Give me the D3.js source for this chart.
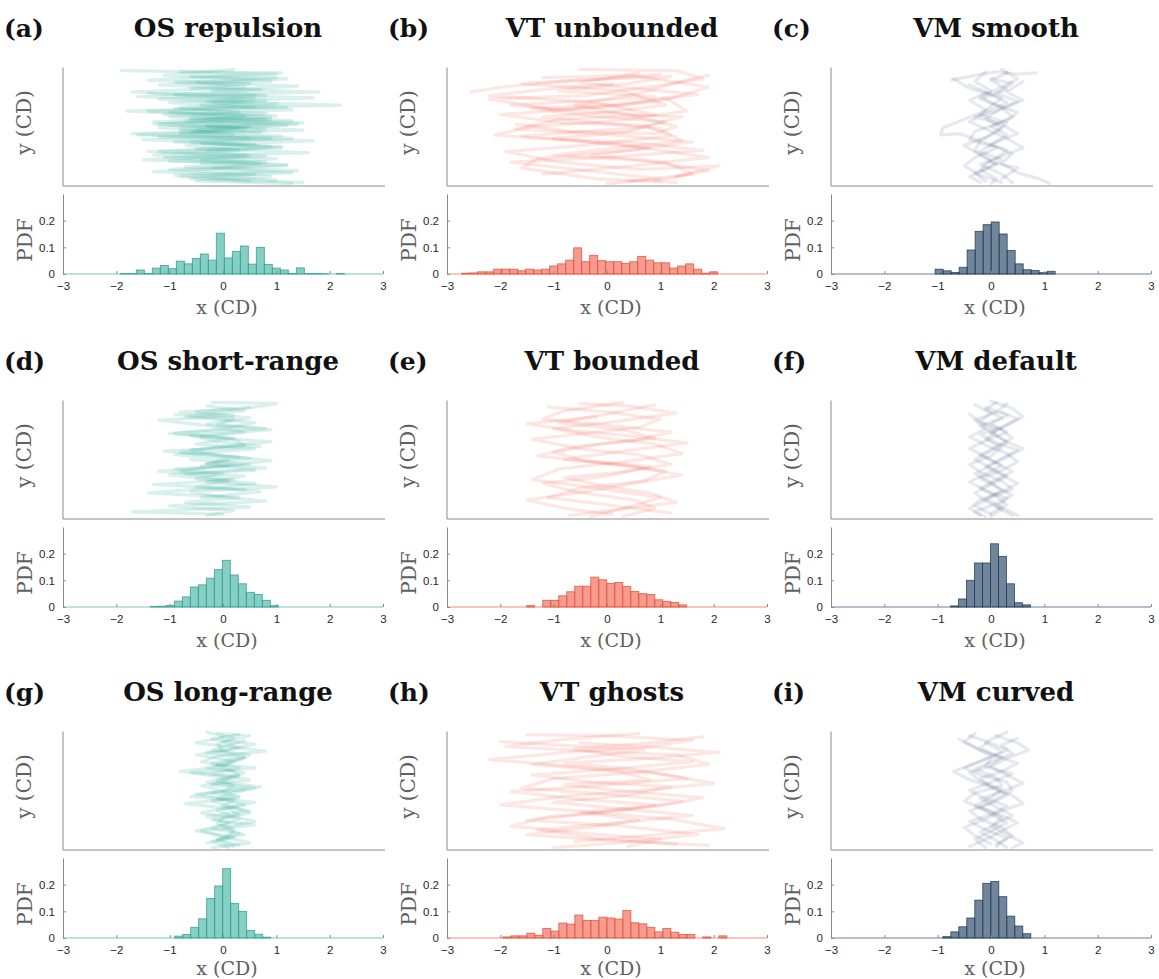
<!DOCTYPE html>
<html><head><meta charset="utf-8">
<script src="https://cdn.jsdelivr.net/npm/d3@7"></script>
<style>body{margin:0;background:#fff}svg{display:block}</style>
</head><body><svg id="chart" width="1159" height="979"></svg>
<script>
// ---------------- DATA ----------------
const panelLetters = ["(a)","(b)","(c)","(d)","(e)","(f)","(g)","(h)","(i)"];
const panelTitles = ["OS repulsion","VT unbounded","VM smooth","OS short-range","VT bounded","VM default","OS long-range","VT ghosts","VM curved"];
const panelModels = ["OS","VT","VM","OS","VT","VM","OS","VT","VM"];
const xTicks = [-3,-2,-1,0,1,2,3];
const pdfTicks = [0,0.1,0.2];
const xLabel = "x (CD)", yLabel = "y (CD)", pdfLabel = "PDF";
const binWidth = 0.15;
const histBinStart = [-1.925,-2.725,-1.047,-1.3625,-1.505,-0.76,-0.906,-1.953,-0.904];
const histA = [0.002,0.002,0.015,0.002,0.022,0.032,0.02,0.048,0.038,0.058,0.075,0.052,0.153,0.06,0.085,0.105,0.037,0.1,0.036,0.022,0.015,0.002,0.023,0.002,0.002,0.001,0,0.002];
const histB = [0.003,0.004,0.008,0.008,0.018,0.018,0.018,0.012,0.018,0.015,0.018,0.03,0.038,0.052,0.098,0.046,0.07,0.05,0.046,0.046,0.04,0.046,0.066,0.052,0.042,0.042,0.022,0.03,0.038,0.018,0.003,0.008];
const histC = [0.018,0.012,0.006,0.025,0.09,0.16,0.185,0.195,0.15,0.088,0.038,0.016,0.013,0.005,0.01];
const histD = [0.002,0.003,0.006,0.022,0.038,0.075,0.083,0.108,0.14,0.175,0.12,0.087,0.055,0.047,0.025,0.005];
const histE = [0.005,0,0.025,0.025,0.042,0.057,0.078,0.078,0.112,0.102,0.088,0.092,0.077,0.058,0.05,0.047,0.027,0.021,0.017,0.008];
const histF = [0.004,0.03,0.1,0.165,0.165,0.237,0.19,0.087,0.016,0.008];
const histG = [0.007,0.013,0.04,0.072,0.148,0.195,0.26,0.13,0.1,0.028,0.014,0.003];
const histH = [0.004,0.008,0.008,0.018,0.01,0.036,0.026,0.056,0.052,0.086,0.066,0.066,0.078,0.075,0.071,0.103,0.057,0.053,0.04,0.023,0.036,0.022,0.013,0.013,0,0.004,0,0.008];
const histI = [0.005,0.023,0.042,0.075,0.142,0.205,0.212,0.155,0.082,0.045,0.016];
const histValues = [histA,histB,histC,histD,histE,histF,histG,histH,histI];

// trajectories: [x (CD), y (arbitrary 0..10)]
const trajA = [
 [[-1.9,9.7],[1.1,9.5],[-0.6,9.2],[0.9,8.8],[-1.2,8.5],[0.7,8.1],[-0.9,7.7],[1.7,7.4],[-1.0,7.0],[0.6,6.6],[-1.4,6.3],[1.0,5.9],[-0.7,5.5],[1.2,5.1],[-0.5,4.7]],
 [[-0.8,9.6],[1.0,9.4],[-1.4,8.9],[0.5,8.6],[-0.6,8.2],[1.8,7.9],[-1.6,7.5],[0.8,7.2],[-0.4,6.8],[1.3,6.4],[-1.1,6.0],[0.9,5.6],[-1.3,5.2],[0.4,4.8],[-0.8,4.4]],
 [[0.2,9.8],[-1.1,9.3],[1.2,9.0],[-0.5,8.7],[0.4,8.3],[-1.7,7.9],[0.6,7.6],[-0.3,7.1],[2.2,6.8],[-0.9,6.5],[0.8,6.1],[-0.6,5.7],[1.5,5.3],[-1.2,4.9],[0.7,4.5]],
 [[-1.0,6.2],[0.9,5.8],[-1.3,5.4],[0.5,5.0],[-0.8,4.6],[1.1,4.2],[-1.5,3.9],[0.6,3.5],[-0.5,3.1],[1.6,2.8],[-1.1,2.4],[0.8,2.0],[-0.7,1.6],[1.4,1.3],[-0.9,0.9],[1.0,0.5]],
 [[0.8,5.6],[-1.2,5.2],[0.3,4.9],[-0.6,4.4],[1.3,4.0],[-0.9,3.7],[0.9,3.3],[-1.4,2.9],[0.5,2.5],[-0.4,2.2],[1.2,1.8],[-1.0,1.4],[0.6,1.0],[-0.6,0.6],[1.5,0.3]],
 [[-0.3,5.0],[1.5,4.7],[-1.6,4.3],[0.9,4.0],[-0.4,3.6],[1.1,3.2],[-1.2,2.9],[0.4,2.6],[-1.5,2.2],[0.7,1.9],[-0.2,1.5],[1.3,1.1],[-0.8,0.8],[0.5,0.4]],
 [[-1.4,7.8],[0.6,7.3],[-0.2,7.0],[1.2,6.6],[-1.8,6.3],[0.4,5.9],[-0.6,5.5],[1.4,5.2],[-0.8,4.8],[0.2,4.3],[-1.2,4.1],[1.7,3.8],[-0.7,3.4],[0.3,3.0],[-1.3,2.6],[1.0,2.3],[-0.4,1.9]],
 [[1.0,9.1],[-0.9,8.7],[1.4,8.4],[-0.2,8.0],[0.8,7.6],[-1.2,7.3],[1.0,6.9],[-0.8,6.6],[0.3,6.2],[-1.0,5.8],[1.3,5.5],[-0.3,5.1],[0.8,4.7],[-1.7,4.4],[0.5,4.0],[-0.6,3.7],[1.1,3.3],[-0.3,2.9],[0.8,2.5],[-1.0,2.1],[1.2,1.7],[-1.3,1.2],[0.9,0.8],[-0.5,0.4],[1.3,0.2]]
];
const trajB = [
 [[-2.55,7.9],[-2.0,8.3],[-0.6,8.9],[1.2,9.2],[0.4,8.6],[-0.9,8.0],[0.9,7.5],[-1.8,6.8],[-0.3,6.2],[1.4,5.8],[0.6,4.9],[-1.6,4.2],[0.2,3.5],[1.9,2.4],[0.5,1.7],[-1.2,1.0]],
 [[-0.5,9.8],[1.3,9.7],[1.8,9.0],[0.9,8.4],[-0.4,7.6],[-2.2,7.3],[-1.0,6.4],[0.3,6.8],[1.1,7.4],[1.5,6.3],[0.2,5.5],[-1.4,5.0],[-2.1,4.3],[-0.6,3.8],[0.8,3.2],[-0.3,2.6],[1.1,2.0],[1.6,1.0],[0.4,0.4]],
 [[-1.2,9.1],[0.5,9.3],[1.9,8.3],[1.0,7.1],[-0.2,6.6],[-2.0,6.0],[-0.8,5.3],[0.7,5.1],[1.2,4.2],[-0.5,3.4],[-1.9,2.9],[-0.9,2.0],[0.6,1.4],[2.1,1.7],[1.3,0.8]],
 [[0.1,8.6],[-1.0,8.2],[-2.2,7.6],[-0.2,7.0],[0.9,6.0],[-0.9,5.6],[-1.7,4.8],[0.1,4.3],[1.6,3.7],[0.4,3.0],[-1.3,2.3],[-1.6,1.5],[-0.2,0.6],[1.3,0.3]],
 [[0.6,9.5],[-0.5,8.7],[0.5,8.2],[1.7,7.7],[0.2,6.9],[-1.4,6.5],[-0.3,5.9],[1.1,5.4],[0.3,4.5],[-1.0,4.0],[0.6,3.6],[1.8,3.0],[0.0,2.4],[-1.8,2.0],[-0.4,1.3],[1.0,0.6],[0.0,0.2]],
 [[1.0,9.4],[0.0,9.0],[-1.6,8.6],[0.3,8.0],[1.1,6.8],[0.0,6.2],[-1.2,5.8],[1.0,4.8],[1.4,3.8],[-0.2,3.0],[-1.0,2.6],[0.7,2.1],[1.9,1.3],[0.9,0.4]],
 [[-1.7,5.2],[-0.7,4.6],[0.9,4.4],[1.3,5.0],[0.4,6.0],[-0.6,6.8],[0.6,7.8],[1.4,8.8],[1.9,9.3]]
];
const trajC = [
 [[-0.75,8.9],[-0.3,9.3],[0.1,9.6],[0.5,9.4],[0.85,9.5]],
 [[-0.1,9.6],[-0.3,8.8],[0.0,8.0],[-0.4,7.2],[-0.1,6.4],[-0.5,5.6],[-0.9,4.9],[-0.95,4.3],[-0.6,4.4],[-0.2,3.8],[-0.3,3.0],[0.0,2.2],[-0.2,1.4],[0.1,0.6],[0.0,0.2]],
 [[0.3,9.5],[0.0,8.9],[0.3,8.1],[-0.2,7.3],[0.2,6.6],[0.4,5.8],[0.0,5.0],[0.3,4.3],[0.0,3.5],[0.4,2.7],[0.2,1.9],[0.5,1.1],[0.9,0.6],[1.1,0.2]],
 [[0.0,9.0],[0.4,8.6],[0.1,7.8],[0.5,7.1],[0.1,6.3],[-0.3,5.8],[0.2,5.2],[0.5,4.4],[0.1,3.7],[-0.2,2.9],[0.2,2.2],[-0.1,1.4],[-0.4,0.8],[-0.2,0.3]],
 [[-0.4,8.5],[0.0,7.7],[0.3,7.0],[-0.1,6.2],[-0.4,5.4],[-0.1,4.8],[0.3,4.0],[0.6,3.2],[0.2,2.5],[-0.2,1.8],[0.2,1.0],[0.4,0.3]],
 [[0.2,9.8],[0.5,9.0],[0.2,8.3],[-0.2,7.5],[0.1,6.8],[0.5,6.2],[0.3,5.5],[-0.3,4.6],[-0.4,3.9],[0.1,3.2],[-0.3,2.4],[-0.5,1.7],[-0.2,0.9],[0.2,0.3]],
 [[-0.7,9.0],[-0.4,8.2],[0.2,7.4],[0.0,6.7],[-0.2,6.0],[0.3,5.3],[0.1,4.5],[-0.2,3.8],[0.3,3.0],[0.0,2.0],[0.5,1.5],[0.2,0.6]],
 [[0.6,8.8],[0.3,7.9],[0.6,7.2],[0.2,6.5],[-0.1,5.7],[0.2,4.9],[-0.1,4.1],[-0.5,3.4],[-0.2,2.6],[0.1,1.8],[-0.3,1.1],[-0.1,0.4]]
];
const trajD = [
 [[-0.2,9.8],[1.0,9.7],[0.3,9.2],[-0.8,9.0],[0.5,8.5],[-0.3,8.0],[0.8,7.6],[-1.0,7.2],[0.2,6.8],[-0.5,6.3],[0.6,5.9],[-0.9,5.4],[0.1,5.0],[-0.4,4.5]],
 [[-0.9,8.8],[0.2,8.4],[-0.1,7.9],[0.9,7.5],[-0.6,7.0],[-0.1,6.5],[0.7,6.1],[-1.1,5.7],[0.3,5.2],[-0.3,4.7],[0.8,4.3],[-0.7,3.8],[0.2,3.3],[-1.3,2.9],[0.4,2.5]],
 [[0.5,9.4],[-0.5,9.0],[0.2,8.7],[-1.2,8.3],[-0.2,7.8],[0.4,7.3],[-0.4,6.9],[0.9,6.5],[-0.2,6.0],[-0.8,5.6],[0.5,5.1],[-0.3,4.6],[0.6,4.1],[-1.0,3.7],[0.1,3.2],[-0.5,2.7],[0.7,2.3],[-0.4,1.8]],
 [[-0.6,5.0],[0.5,4.6],[-0.9,4.2],[0.0,3.8],[-0.5,3.4],[0.6,3.0],[-0.2,2.6],[-1.4,2.2],[0.3,1.8],[-0.7,1.4],[0.5,1.0],[-1.7,0.6],[0.0,0.4]],
 [[0.1,4.4],[-1.2,4.0],[0.4,3.6],[-0.3,3.1],[1.0,2.7],[-0.6,2.3],[-0.1,1.9],[0.8,1.5],[-1.0,1.1],[0.2,0.7],[-0.3,0.3]],
 [[-0.3,9.5],[0.4,9.1],[-0.7,8.6],[0.6,8.1],[0.0,7.6],[-0.9,7.2],[0.2,6.7],[0.4,6.2],[-0.6,5.8],[0.0,5.3],[0.9,4.9],[-0.2,4.4],[-0.8,4.0]]
];
const trajE = [
 [[-0.5,9.7],[0.4,9.5],[1.3,8.9],[0.2,8.2],[-1.0,7.6],[-0.2,6.9],[0.9,6.3],[1.4,5.5],[0.3,4.8],[-0.9,4.2],[-1.4,3.3],[-0.2,2.6],[1.0,1.8],[0.4,1.0],[-0.3,0.2]],
 [[0.3,9.8],[-0.8,9.1],[-1.2,8.4],[0.0,7.9],[1.2,7.3],[0.5,6.6],[-0.6,6.1],[-1.3,5.3],[-0.1,4.7],[1.1,4.0],[0.7,3.2],[-0.5,2.6],[-1.1,1.8],[0.0,1.2],[1.2,0.5]],
 [[-1.1,9.4],[0.0,9.0],[1.0,8.4],[0.6,7.7],[-0.4,7.2],[-1.4,6.7],[-0.5,5.9],[0.6,5.4],[1.2,4.6],[0.2,3.9],[-0.8,3.5],[-0.1,2.8],[0.8,2.2],[1.3,1.4],[0.2,0.8],[-0.7,0.3]],
 [[0.9,9.6],[0.0,8.8],[-0.9,8.1],[0.3,7.5],[0.9,6.8],[-0.1,6.3],[-1.0,5.6],[-0.4,4.9],[0.8,4.4],[0.0,3.6],[-1.2,3.0],[-0.6,2.3],[0.5,1.6],[0.9,0.9],[0.3,0.2]],
 [[-0.2,8.6],[-1.5,8.0],[-0.6,7.4],[0.4,7.0],[1.5,6.4],[0.3,5.7],[-0.8,5.0],[0.4,4.5],[1.4,3.7],[0.5,3.0],[-0.4,2.3],[-1.5,1.6],[-0.8,0.9],[0.1,0.4]]
];
const trajF = [
 [[0.1,9.8],[-0.1,9.2],[0.2,8.5],[-0.2,7.8],[0.1,7.1],[0.3,6.4],[0.0,5.7],[-0.3,5.0],[0.0,4.3],[0.3,3.6],[0.0,2.9],[-0.3,2.2],[-0.1,1.5],[0.2,0.8],[0.0,0.2]],
 [[-0.3,9.6],[0.0,8.9],[-0.2,8.2],[0.2,7.5],[0.4,6.8],[0.1,6.1],[-0.2,5.4],[0.1,4.7],[0.4,4.0],[0.1,3.3],[-0.2,2.6],[0.1,1.9],[0.3,1.2],[0.0,0.5]],
 [[0.3,9.7],[0.1,9.0],[-0.3,8.3],[-0.1,7.6],[-0.4,6.9],[-0.1,6.2],[0.3,5.5],[0.5,4.8],[0.2,4.1],[-0.2,3.4],[0.1,2.7],[0.4,2.0],[0.1,1.3],[-0.3,0.6],[-0.1,0.2]],
 [[-0.1,9.4],[0.3,8.7],[0.0,8.0],[0.3,7.3],[-0.1,6.6],[-0.4,5.9],[-0.1,5.2],[0.2,4.5],[-0.1,3.8],[-0.4,3.1],[-0.1,2.4],[0.3,1.7],[0.1,1.0],[0.4,0.3]],
 [[0.2,9.0],[0.5,8.4],[0.2,7.7],[-0.2,7.1],[0.1,6.4],[0.5,5.8],[0.2,5.1],[-0.1,4.4],[0.2,3.7],[0.5,3.0],[0.2,2.3],[-0.2,1.6],[-0.4,0.9],[-0.2,0.3]],
 [[-0.4,8.8],[-0.2,8.1],[0.1,7.4],[-0.1,6.7],[0.2,6.0],[0.0,5.3],[-0.4,4.6],[-0.2,3.9],[0.2,3.2],[0.4,2.5],[0.0,1.8],[-0.3,1.1],[0.0,0.4]],
 [[0.0,9.9],[0.4,9.3],[0.6,8.6],[0.3,7.9],[0.0,7.2],[0.3,6.5],[0.6,5.9],[0.3,5.2],[0.0,4.5],[-0.3,3.8],[0.0,3.1],[0.2,2.4],[-0.1,1.7],[0.2,1.0],[0.5,0.3]]
];
const trajG = [
 [[-0.1,9.8],[0.5,9.6],[0.0,9.1],[0.3,8.6],[-0.3,8.2],[0.4,7.7],[-0.1,7.2],[0.6,6.9],[-0.6,6.5],[0.1,6.0],[-0.2,5.5],[0.4,5.1],[-0.5,4.7],[0.2,4.2],[0.0,3.7],[0.5,3.3],[-0.3,2.8],[0.1,2.3],[-0.2,1.8],[0.4,1.3],[-0.1,0.8],[0.2,0.3]],
 [[0.3,9.7],[-0.2,9.3],[0.6,8.9],[0.1,8.4],[-0.5,8.0],[0.2,7.5],[0.0,7.0],[-0.8,6.6],[0.3,6.2],[0.0,5.7],[0.7,5.3],[-0.2,4.8],[0.3,4.4],[-0.7,3.9],[0.1,3.5],[0.3,3.0],[-0.2,2.5],[0.6,2.1],[-0.4,1.6],[0.0,1.1],[0.5,0.6],[-0.2,0.2]],
 [[0.0,9.5],[-0.5,9.0],[0.1,8.7],[0.8,8.3],[-0.1,7.9],[-0.4,7.4],[0.3,6.9],[-0.2,6.4],[0.5,5.9],[-0.4,5.4],[0.0,5.0],[-0.6,4.5],[0.6,4.0],[0.0,3.5],[-0.4,3.1],[0.3,2.6],[0.0,2.1],[-0.5,1.6],[0.2,1.1],[-0.3,0.6]],
 [[0.4,9.2],[0.1,8.8],[-0.2,8.4],[0.5,8.0],[0.2,7.4],[-0.3,6.9],[0.4,6.5],[0.1,6.1],[-0.3,5.7],[0.6,5.2],[0.1,4.7],[-0.1,4.3],[0.4,3.8],[-0.1,3.3],[0.2,2.8],[0.6,2.4],[0.0,1.9],[0.3,1.4],[-0.1,0.9],[0.3,0.4]],
 [[-0.3,9.9],[0.2,9.4],[-0.1,8.9],[0.0,8.3],[0.4,7.8],[-0.2,7.3],[0.1,6.8],[0.3,6.3],[-0.1,5.8],[0.2,5.4],[0.0,4.9],[0.3,4.5],[-0.2,4.1],[0.2,3.6],[0.5,3.1],[0.0,2.7],[-0.1,2.2],[0.2,1.7],[0.1,1.2],[-0.2,0.7],[0.1,0.2]]
];
const trajH = [
 [[-1.5,9.7],[0.0,9.6],[1.6,9.2],[0.6,8.6],[-0.8,8.2],[-2.2,7.6],[-0.6,7.0],[1.0,6.4],[2.0,5.6],[0.6,5.0],[-0.8,4.5],[-2.0,3.8],[-0.4,3.2],[1.2,2.6],[2.2,1.8],[0.7,1.2],[-0.6,0.7]],
 [[0.6,9.8],[-0.8,9.3],[-1.9,8.7],[-0.3,8.3],[1.3,8.0],[1.9,7.2],[0.5,6.5],[-1.0,6.0],[-1.6,5.2],[0.0,4.7],[1.4,4.1],[0.3,3.3],[-1.1,2.8],[-1.8,2.0],[-0.4,1.4],[1.0,0.9],[0.4,0.3]],
 [[1.8,9.5],[0.8,9.0],[-0.6,8.5],[0.2,7.9],[1.6,7.4],[0.1,6.8],[-1.4,6.3],[-0.3,5.7],[1.2,5.3],[0.4,4.6],[-1.0,4.0],[0.2,3.5],[1.6,2.9],[0.2,2.3],[-1.3,1.7],[-0.2,1.0],[1.3,0.5]],
 [[-0.5,9.0],[1.0,8.6],[2.1,8.2],[0.8,7.7],[-0.8,7.3],[0.5,6.8],[1.5,6.0],[-0.2,5.4],[-1.8,4.9],[-0.6,4.3],[0.9,3.8],[-0.4,3.0],[-1.5,2.5],[0.3,2.0],[1.7,1.3],[0.2,0.6],[-1.0,0.2]],
 [[-2.0,9.1],[-0.8,8.8],[0.7,8.4],[-0.4,7.8],[-1.4,7.2],[0.2,6.6],[0.8,5.9],[-0.8,5.5],[0.4,4.9],[1.8,4.4],[1.0,3.7],[-0.5,3.2],[0.6,2.5],[-0.3,1.9],[-1.5,1.3],[0.0,0.8],[1.9,0.4]]
];
const trajI = [
 [[-0.3,9.8],[-0.5,9.1],[-0.2,8.4],[0.2,7.8],[0.0,7.1],[-0.4,6.5],[-0.2,5.8],[0.2,5.1],[0.0,4.4],[-0.3,3.7],[0.0,3.0],[0.3,2.3],[0.0,1.6],[-0.3,0.9],[-0.1,0.2]],
 [[0.1,9.6],[0.5,9.0],[0.7,8.4],[0.3,7.7],[0.0,7.0],[0.3,6.3],[0.6,5.6],[0.2,4.9],[-0.2,4.3],[0.1,3.6],[0.4,2.9],[0.1,2.2],[-0.2,1.5],[0.1,0.8],[0.3,0.2]],
 [[-0.6,9.3],[-0.3,8.6],[0.0,7.9],[-0.3,7.3],[-0.7,6.6],[-0.4,5.9],[0.0,5.3],[0.3,4.6],[0.0,3.9],[-0.4,3.3],[-0.2,2.6],[0.2,1.9],[0.4,1.2],[0.1,0.5]],
 [[0.3,9.9],[0.0,9.3],[-0.2,8.6],[0.1,7.9],[0.5,7.3],[0.2,6.6],[-0.2,6.0],[0.0,5.3],[0.4,4.6],[0.6,3.9],[0.2,3.3],[-0.1,2.6],[-0.5,1.9],[-0.3,1.2],[0.0,0.5]],
 [[-0.1,9.0],[0.2,8.3],[-0.1,7.6],[-0.5,6.9],[-0.2,6.3],[0.3,5.7],[0.4,5.0],[0.1,4.3],[-0.2,3.6],[0.2,2.9],[0.5,2.3],[0.2,1.6],[-0.1,0.9],[-0.4,0.3]],
 [[0.5,9.4],[0.2,8.8],[0.4,8.1],[0.0,7.4],[-0.3,6.8],[0.1,6.1],[0.2,5.4],[-0.3,4.8],[-0.5,4.1],[-0.1,3.4],[0.2,2.7],[0.0,2.0],[0.3,1.3],[0.6,0.6],[0.4,0.2]],
 [[-0.4,9.6],[0.0,9.0],[0.3,8.4],[0.0,7.7],[-0.1,7.0],[0.4,6.4],[0.0,5.7],[-0.4,5.0],[-0.1,4.3],[0.3,3.7],[0.0,3.0],[-0.4,2.4],[-0.1,1.7],[0.3,1.0],[0.1,0.3]]
];
const trajValues = [trajA,trajB,trajC,trajD,trajE,trajF,trajG,trajH,trajI];

// ---------------- STYLE / LAYOUT ----------------
const modelStyle = {
  OS: {fill:"#3fb3a2", fillOp:0.63, edge:"#36a090", line:"#3fb3a2", lineOp:0.2},
  VT: {fill:"#f0604c", fillOp:0.63, edge:"#e2543f", line:"#f0604c", lineOp:0.15},
  VM: {fill:"#2e4c6c", fillOp:0.68, edge:"#233f5c", line:"#3a5878", lineOp:0.13}
};
const colLeft = [63,447,831], axW = 320;
const rowOff = [0,333,664];
const trajTopPx = 67, trajHeightPx = 119, histTopPx = 194, histHeightPx = 80;
const xLabelGap = [40,40,37];
const axisGray = "#8a8a8a";
const serif = "'DejaVu Serif', serif";
const sans = "'Liberation Sans', Arial, sans-serif";

const svg = d3.select("#chart");
svg.append("rect").attr("width",1159).attr("height",979).attr("fill","#fff");

panelTitles.forEach((title,i)=>{
  const r = Math.floor(i/3), c = i%3;
  const L = colLeft[c], off = rowOff[r];
  const st = modelStyle[panelModels[i]];
  const g = svg.append("g");
  const x = d3.scaleLinear().domain([-3,3]).range([L, L+axW]);
  const yT = d3.scaleLinear().domain([0,10]).range([off+trajTopPx+trajHeightPx, off+trajTopPx]);
  const yH = d3.scaleLinear().domain([0,0.3]).range([off+histTopPx+histHeightPx, off+histTopPx]);

  // titles
  g.append("text").attr("x", L-59).attr("y", off+37)
    .attr("font-family", serif).attr("font-weight","bold").attr("font-size",25)
    .attr("fill","#111").text(panelLetters[i]);
  g.append("text").attr("x", L+axW/2+5).attr("y", off+37).attr("text-anchor","middle")
    .attr("font-family", serif).attr("font-weight","bold").attr("font-size",26)
    .attr("fill","#111").text(title);

  // trajectory lines
  const line = d3.line().x(d=>x(d[0])).y(d=>yT(d[1]));
  g.append("g").selectAll("path").data(trajValues[i]).join("path")
    .attr("d", line).attr("fill","none")
    .attr("stroke", st.line).attr("stroke-opacity", st.lineOp)
    .attr("stroke-width", 3.2).attr("stroke-linejoin","round").attr("stroke-linecap","round");

  // trajectory axes (left + bottom)
  g.append("path")
    .attr("d", `M${L},${yT(10)+0.5}V${yT(0)}H${L+axW+2}`)
    .attr("fill","none").attr("stroke",axisGray).attr("stroke-width",1);
  g.append("text")
    .attr("transform", `translate(${L-32},${off+trajTopPx+trajHeightPx/2-4}) rotate(-90)`)
    .attr("text-anchor","middle").attr("font-family",serif).attr("font-size",20)
    .attr("fill","#606060").text(yLabel);

  // histogram
  const vals = histValues[i], s0 = histBinStart[i];
  g.append("line").attr("x1", x(-3)).attr("x2", x(3)).attr("y1", yH(0)).attr("y2", yH(0))
    .attr("stroke", st.fill).attr("stroke-opacity",0.7).attr("stroke-width",1.2);
  g.append("g").selectAll("rect").data(vals.map((v,k)=>({x0:s0+k*binWidth, v})).filter(d=>d.v>0)).join("rect")
    .attr("x", d=>x(d.x0)).attr("width", d=>x(d.x0+binWidth)-x(d.x0))
    .attr("y", d=>yH(d.v)).attr("height", d=>yH(0)-yH(d.v))
    .attr("fill", st.fill).attr("fill-opacity", st.fillOp)
    .attr("stroke", st.edge).attr("stroke-opacity",0.85).attr("stroke-width",0.9);

  const xAxis = d3.axisBottom(x).tickValues(xTicks).tickSizeInner(-3).tickSizeOuter(0).tickPadding(8)
    .tickFormat(d3.format("d"));
  const gx = g.append("g").attr("transform", `translate(0,${yH(0)})`).call(xAxis);
  gx.select(".domain").remove();
  gx.selectAll(".tick line").attr("stroke", axisGray);
  gx.selectAll(".tick text").attr("font-family",sans).attr("font-size",11.5).attr("fill","#262626");

  const yAxis = d3.axisLeft(yH).tickValues(pdfTicks).tickSizeInner(-3).tickSizeOuter(0).tickPadding(8)
    .tickFormat(d=> d===0 ? "0" : d3.format(".1f")(d));
  const gy = g.append("g").attr("transform", `translate(${L},0)`).call(yAxis);
  gy.select(".domain").attr("stroke", axisGray);
  gy.selectAll(".tick line").attr("stroke", axisGray);
  gy.selectAll(".tick text").attr("font-family",sans).attr("font-size",11.5).attr("fill","#262626");

  g.append("text").attr("x", L+axW/2+4).attr("y", yH(0)+xLabelGap[r]).attr("text-anchor","middle")
    .attr("font-family",serif).attr("font-size",19).attr("fill","#606060").text(xLabel);
  g.append("text")
    .attr("transform", `translate(${L-31},${off+histTopPx+histHeightPx/2+6}) rotate(-90)`)
    .attr("text-anchor","middle").attr("font-family",serif).attr("font-size",20)
    .attr("fill","#606060").text(pdfLabel);
});
</script></body></html>
